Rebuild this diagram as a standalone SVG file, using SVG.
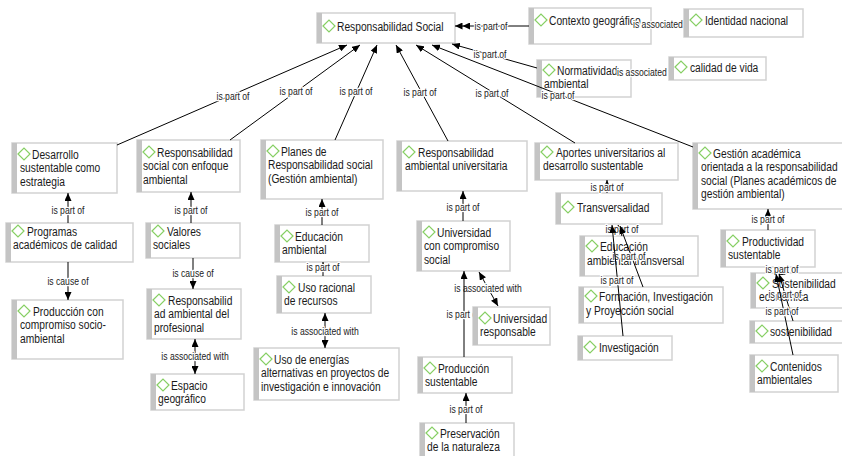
<svg xmlns="http://www.w3.org/2000/svg" width="842" height="456" viewBox="0 0 842 456">
<defs>
<marker id="a" viewBox="0 0 8 7" refX="8" refY="3.5" markerWidth="8" markerHeight="7" markerUnits="userSpaceOnUse" orient="auto-start-reverse"><path d="M0,0 L8,3.5 L0,7 z" fill="#000"/></marker>
<marker id="a2" viewBox="0 0 15 7" refX="15" refY="3.5" markerWidth="15" markerHeight="7" markerUnits="userSpaceOnUse" orient="auto"><path d="M0,0 L7.5,3.5 L0,7 z M7.5,0 L15,3.5 L7.5,7 z" fill="#000"/></marker>
<style>
.box{fill:#fff;stroke:#d2d2d2;stroke-width:1.5}
.strip{fill:#c4c4c4}
.dia{fill:none;stroke:#86cf63;stroke-width:1.2}
.t{font-family:"Liberation Sans",Arial,sans-serif;font-size:12.5px;fill:#1a1a1a}
.e{fill:none;stroke:#000;stroke-width:1}
.ea{marker-end:url(#a)}
.eb{marker-start:url(#a);marker-end:url(#a)}
.l{font-family:"Liberation Sans",Arial,sans-serif;font-size:10.5px;fill:#222;text-anchor:middle;stroke:#fff;stroke-width:2.5;paint-order:stroke;stroke-linejoin:round}
.ls{text-anchor:start}
</style>
</defs>
<rect width="842" height="456" fill="#fff"/>
<g id="nodes">
<g id="n-rs"><rect class="box" x="317" y="13" width="138" height="30"/><rect class="strip" x="317" y="13" width="5" height="30"/><path class="dia" d="M323,26 l6,-6 l6,6 l-6,6 z"/><text class="t" transform="matrix(.82 0 0 1 60.66 0)" x="337" y="31">Responsabilidad Social</text></g>
<g id="n-ctx"><rect class="box" x="529" y="8" width="122" height="36"/><rect class="strip" x="529" y="8" width="5" height="36"/><path class="dia" d="M535,20 l6,-6 l6,6 l-6,6 z"/><text class="t" transform="matrix(.82 0 0 1 98.82 0)" x="549" y="25">Contexto geográfico</text></g>
<g id="n-norm"><rect class="box" x="537" y="60" width="94" height="37"/><rect class="strip" x="537" y="60" width="5" height="37"/><path class="dia" d="M543,70 l6,-6 l6,6 l-6,6 z"/><text class="t" transform="matrix(.82 0 0 1 100.26 0)" x="557" y="75">Normatividad<tspan x="541.15" y="88">ambiental</tspan></text></g>
<g id="n-des"><rect class="box" x="12" y="143" width="105" height="50"/><rect class="strip" x="12" y="143" width="5" height="50"/><path class="dia" d="M18,154 l6,-6 l6,6 l-6,6 z"/><text class="t" transform="matrix(.82 0 0 1 5.76 0)" x="32" y="159">Desarrollo<tspan x="17.37" y="172.5">sustentable como</tspan><tspan x="17.37" y="186">estrategia</tspan></text></g>
<g id="n-rse"><rect class="box" x="137" y="140" width="103" height="52"/><rect class="strip" x="137" y="140" width="5" height="52"/><path class="dia" d="M143,152 l6,-6 l6,6 l-6,6 z"/><text class="t" transform="matrix(.82 0 0 1 28.26 0)" x="157" y="157">Responsabilidad<tspan x="139.93" y="170.5">social con enfoque</tspan><tspan x="139.93" y="184">ambiental</tspan></text></g>
<g id="n-pla"><rect class="box" x="261" y="140" width="122" height="59"/><rect class="strip" x="261" y="140" width="5" height="59"/><path class="dia" d="M267,151 l6,-6 l6,6 l-6,6 z"/><text class="t" transform="matrix(.82 0 0 1 50.58 0)" x="281" y="156">Planes de<tspan x="265.15" y="169.5">Responsabilidad social</tspan><tspan x="265.15" y="183">(Gestión ambiental)</tspan></text></g>
<g id="n-rau"><rect class="box" x="397" y="141" width="130" height="50"/><rect class="strip" x="397" y="141" width="5" height="50"/><path class="dia" d="M403,152 l6,-6 l6,6 l-6,6 z"/><text class="t" transform="matrix(.82 0 0 1 75.24 0)" x="418" y="157">Responsabilidad<tspan x="402.15" y="170.5">ambiental universitaria</tspan></text></g>
<g id="n-apo"><rect class="box" x="535" y="143" width="143" height="37"/><rect class="strip" x="535" y="143" width="5" height="37"/><path class="dia" d="M541,152 l6,-6 l6,6 l-6,6 z"/><text class="t" transform="matrix(.82 0 0 1 100.08 0)" x="556" y="157">Aportes universitarios al<tspan x="540.15" y="170.5">desarrollo sustentable</tspan></text></g>
<g id="n-ges"><rect class="box" x="693" y="143" width="150" height="66"/><rect class="strip" x="693" y="143" width="5" height="66"/><path class="dia" d="M699,153 l6,-6 l6,6 l-6,6 z"/><text class="t" transform="matrix(.82 0 0 1 128.34 0)" x="713" y="158">Gestión académica<tspan x="698.37" y="171.5">orientada a la responsabilidad</tspan><tspan x="698.37" y="185">social (Planes académicos de</tspan><tspan x="698.37" y="198.5">gestión ambiental)</tspan></text></g>
<g id="n-pro"><rect class="box" x="6" y="223" width="127" height="39"/><rect class="strip" x="6" y="223" width="5" height="39"/><path class="dia" d="M12,231 l6,-6 l6,6 l-6,6 z"/><text class="t" transform="matrix(.82 0 0 1 4.86 0)" x="27" y="236">Programas<tspan x="9.93" y="249.5">académicos de calidad</tspan></text></g>
<g id="n-val"><rect class="box" x="146" y="223" width="94" height="35"/><rect class="strip" x="146" y="223" width="5" height="35"/><path class="dia" d="M152,231 l6,-6 l6,6 l-6,6 z"/><text class="t" transform="matrix(.82 0 0 1 30.06 0)" x="167" y="236">Valores<tspan x="149.93" y="249">sociales</tspan></text></g>
<g id="n-pcs"><rect class="box" x="12" y="300" width="111" height="59"/><rect class="strip" x="12" y="300" width="5" height="59"/><path class="dia" d="M18,311 l6,-6 l6,6 l-6,6 z"/><text class="t" transform="matrix(.82 0 0 1 5.94 0)" x="33" y="316">Producción con<tspan x="17.15" y="329.5">compromiso socio-</tspan><tspan x="17.15" y="343">ambiental</tspan></text></g>
<g id="n-rap"><rect class="box" x="147" y="289" width="94" height="50"/><rect class="strip" x="147" y="289" width="5" height="50"/><path class="dia" d="M153,300 l6,-6 l6,6 l-6,6 z"/><text class="t" transform="matrix(.82 0 0 1 30.24 0)" x="168" y="305">Responsabilid<tspan x="150.93" y="318.5">ad ambiental del</tspan><tspan x="150.93" y="332">profesional</tspan></text></g>
<g id="n-esp"><rect class="box" x="151" y="374" width="93" height="36"/><rect class="strip" x="151" y="374" width="5" height="36"/><path class="dia" d="M157,385 l6,-6 l6,6 l-6,6 z"/><text class="t" transform="matrix(.82 0 0 1 30.78 0)" x="171" y="390">Espacio<tspan x="155.15" y="403.5">geográfico</tspan></text></g>
<g id="n-eda"><rect class="box" x="275" y="225" width="94" height="37"/><rect class="strip" x="275" y="225" width="5" height="37"/><path class="dia" d="M281,236 l6,-6 l6,6 l-6,6 z"/><text class="t" transform="matrix(.82 0 0 1 53.1 0)" x="295" y="241">Educación<tspan x="279.15" y="254.5">ambiental</tspan></text></g>
<g id="n-ura"><rect class="box" x="277" y="276" width="94" height="37"/><rect class="strip" x="277" y="276" width="5" height="37"/><path class="dia" d="M283,287 l6,-6 l6,6 l-6,6 z"/><text class="t" transform="matrix(.82 0 0 1 53.64 0)" x="298" y="292">Uso racional<tspan x="280.93" y="305.5">de recursos</tspan></text></g>
<g id="n-uen"><rect class="box" x="254" y="348" width="145" height="52"/><rect class="strip" x="254" y="348" width="5" height="52"/><path class="dia" d="M260,359 l6,-6 l6,6 l-6,6 z"/><text class="t" transform="matrix(.82 0 0 1 49.32 0)" x="274" y="364">Uso de energías<tspan x="258.15" y="377.5">alternativas en proyectos de</tspan><tspan x="258.15" y="391">investigación e innovación</tspan></text></g>
<g id="n-ucc"><rect class="box" x="417" y="221" width="93" height="50"/><rect class="strip" x="417" y="221" width="5" height="50"/><path class="dia" d="M423,232 l6,-6 l6,6 l-6,6 z"/><text class="t" transform="matrix(.82 0 0 1 78.66 0)" x="437" y="237">Universidad<tspan x="421.15" y="250.5">con compromiso</tspan><tspan x="421.15" y="264">social</tspan></text></g>
<g id="n-psu"><rect class="box" x="418" y="357" width="94" height="36"/><rect class="strip" x="418" y="357" width="5" height="36"/><path class="dia" d="M424,368 l6,-6 l6,6 l-6,6 z"/><text class="t" transform="matrix(.82 0 0 1 78.84 0)" x="438" y="373">Producción<tspan x="422.15" y="386.5">sustentable</tspan></text></g>
<g id="n-pre"><rect class="box" x="420" y="423" width="94" height="40"/><rect class="strip" x="420" y="423" width="5" height="40"/><path class="dia" d="M426,433 l6,-6 l6,6 l-6,6 z"/><text class="t" transform="matrix(.82 0 0 1 79.2 0)" x="440" y="438">Preservación<tspan x="424.15" y="451.5">de la naturaleza</tspan></text></g>
<g id="n-tra"><rect class="box" x="556" y="193" width="106" height="31"/><rect class="strip" x="556" y="193" width="5" height="31"/><path class="dia" d="M562,207 l6,-6 l6,6 l-6,6 z"/><text class="t" transform="matrix(.82 0 0 1 103.86 0)" x="577" y="212">Transversalidad</text></g>
<g id="n-eat"><rect class="box" x="580" y="236" width="118" height="40"/><rect class="strip" x="580" y="236" width="5" height="40"/><path class="dia" d="M586,246 l6,-6 l6,6 l-6,6 z"/><text class="t" transform="matrix(.82 0 0 1 108 0)" x="600" y="251">Educación<tspan x="584.15" y="265">ambiental transversal</tspan></text></g>
<g id="n-fip"><rect class="box" x="579" y="287" width="144" height="36"/><rect class="strip" x="579" y="287" width="5" height="36"/><path class="dia" d="M585,296 l6,-6 l6,6 l-6,6 z"/><text class="t" transform="matrix(.82 0 0 1 107.82 0)" x="599" y="301">Formación, Investigación<tspan x="583.15" y="315.5">y Proyección social</tspan></text></g>
<g id="n-inv"><rect class="box" x="578" y="336" width="94" height="24"/><rect class="strip" x="578" y="336" width="5" height="24"/><path class="dia" d="M584,347 l6,-6 l6,6 l-6,6 z"/><text class="t" transform="matrix(.82 0 0 1 107.82 0)" x="599" y="352">Investigación</text></g>
<g id="n-psus"><rect class="box" x="721" y="230" width="94" height="37"/><rect class="strip" x="721" y="230" width="5" height="37"/><path class="dia" d="M727,241 l6,-6 l6,6 l-6,6 z"/><text class="t" transform="matrix(.82 0 0 1 133.56 0)" x="742" y="246">Productividad<tspan x="724.93" y="259.5">sustentable</tspan></text></g>
<g id="n-sec"><rect class="box" x="751" y="273" width="92" height="35"/><rect class="strip" x="751" y="273" width="5" height="35"/><path class="dia" d="M757,283 l6,-6 l6,6 l-6,6 z"/><text class="t" transform="matrix(.82 0 0 1 138.96 0)" x="772" y="288">Sostenibilidad<tspan x="756.15" y="301">económica</tspan></text></g>
<g id="n-sos"><rect class="box" x="750" y="321" width="93" height="22"/><rect class="strip" x="750" y="321" width="5" height="22"/><path class="dia" d="M756,331 l6,-6 l6,6 l-6,6 z"/><text class="t" transform="matrix(.82 0 0 1 138.6 0)" x="770" y="336">sostenibilidad</text></g>
<g id="n-con"><rect class="box" x="750" y="355" width="88" height="37"/><rect class="strip" x="750" y="355" width="5" height="37"/><path class="dia" d="M756,366 l6,-6 l6,6 l-6,6 z"/><text class="t" transform="matrix(.82 0 0 1 138.6 0)" x="770" y="371">Contenidos<tspan x="754.15" y="384">ambientales</tspan></text></g>
</g>
<g id="connectors">
<path class="e" d="M529,26 L455,26" marker-end="url(#a2)"/><text class="l" transform="matrix(.82 0 0 1 88.38 0)" x="491" y="30">is part of</text>
<path class="e ea" d="M537,68 L452,44"/><text class="l" transform="matrix(.82 0 0 1 88.2 0)" x="490" y="58">is part of</text>
<path class="e ea" d="M117,145 L347,45"/><text class="l" transform="matrix(.82 0 0 1 41.94 0)" x="233" y="100">is part of</text>
<path class="e ea" d="M230,140 L360,45"/><text class="l" transform="matrix(.82 0 0 1 53.28 0)" x="296" y="95">is part of</text>
<path class="e ea" d="M335,140 L377,45"/><text class="l" transform="matrix(.82 0 0 1 64.08 0)" x="356" y="95">is part of</text>
<path class="e ea" d="M448,141 L396,45"/><text class="l" transform="matrix(.82 0 0 1 75.6 0)" x="420" y="96">is part of</text>
<path class="e ea" d="M575,143 L416,45"/><text class="l" transform="matrix(.82 0 0 1 88.56 0)" x="492" y="97">is part of</text>
<path class="e ea" d="M693,147 L432,45"/><text class="l" transform="matrix(.82 0 0 1 100.44 0)" x="558" y="99">is part of</text>
<text class="l ls" transform="matrix(.82 0 0 1 113.94 0)" x="633" y="28">is associated with</text>
<text class="l ls" transform="matrix(.82 0 0 1 111.06 0)" x="617" y="76">is associated with</text>
<path class="e ea" d="M68,223 L68,193"/><text class="l" transform="matrix(.82 0 0 1 12.24 0)" x="68" y="214">is part of</text>
<path class="e ea" d="M68,262 L68,300"/><text class="l" transform="matrix(.82 0 0 1 12.24 0)" x="68" y="285">is cause of</text>
<path class="e ea" d="M191,223 L191,192"/><text class="l" transform="matrix(.82 0 0 1 34.38 0)" x="191" y="214">is part of</text>
<path class="e ea" d="M193,258 L193,289"/><text class="l" transform="matrix(.82 0 0 1 34.74 0)" x="193" y="277">is cause of</text>
<path class="e eb" d="M195,339 L195,374"/><text class="l" transform="matrix(.82 0 0 1 35.1 0)" x="195" y="360">is associated with</text>
<path class="e ea" d="M322,225 L322,199"/><text class="l" transform="matrix(.82 0 0 1 57.96 0)" x="322" y="216">is part of</text>
<path class="e ea" d="M323,276 L323,262"/><text class="l" transform="matrix(.82 0 0 1 58.14 0)" x="323" y="271">is part of</text>
<path class="e eb" d="M325,313 L325,348"/><text class="l" transform="matrix(.82 0 0 1 58.5 0)" x="325" y="335">is associated with</text>
<path class="e ea" d="M463,221 L463,191"/><text class="l" transform="matrix(.82 0 0 1 83.34 0)" x="463" y="211">is part of</text>
<path class="e eb" d="M479,272 L498,306"/><text class="l" transform="matrix(.82 0 0 1 87.84 0)" x="488" y="292">is associated with</text>
<path class="e ea" d="M464,357 L464,271"/><text class="l" transform="matrix(.82 0 0 1 83.34 0)" x="463" y="318">is part of</text>
<path class="e ea" d="M466,423 L466,393"/><text class="l" transform="matrix(.82 0 0 1 83.88 0)" x="466" y="413">is part of</text>
<path class="e ea" d="M607,193 L607,180"/><text class="l" transform="matrix(.82 0 0 1 109.26 0)" x="607" y="191">is part of</text>
<path class="e ea" d="M622,236 L618,225"/><text class="l" transform="matrix(.82 0 0 1 111.96 0)" x="622" y="233">is part of</text>
<path class="e ea" d="M643,287 L620,226"/><text class="l" transform="matrix(.82 0 0 1 113.22 0)" x="629" y="260">is part of</text>
<path class="e ea" d="M623,336 L612,225"/><text class="l" transform="matrix(.82 0 0 1 111.06 0)" x="617" y="284">is part of</text>
<path class="e ea" d="M768,230 L768,209"/><text class="l" transform="matrix(.82 0 0 1 138.24 0)" x="768" y="223">is part of</text>
<path class="e ea" d="M782,273 L782,267"/><text class="l" transform="matrix(.82 0 0 1 140.76 0)" x="782" y="273">is part of</text>
<path class="e ea" d="M793,321 L779,274"/><text class="l" transform="matrix(.82 0 0 1 141.3 0)" x="785" y="298">is part of</text>
<path class="e ea" d="M793,355 L776,274"/><text class="l" transform="matrix(.82 0 0 1 140.76 0)" x="782" y="315">is part of</text>
</g>
<g id="nodes-top">
<g id="n-idn"><rect class="box" x="684" y="9" width="119" height="28"/><rect class="strip" x="684" y="9" width="5" height="28"/><path class="dia" d="M690,20 l6,-6 l6,6 l-6,6 z"/><text class="t" transform="matrix(.82 0 0 1 126.9 0)" x="705" y="25">Identidad nacional</text></g>
<g id="n-cal"><rect class="box" x="669" y="57" width="97" height="23"/><rect class="strip" x="669" y="57" width="5" height="23"/><path class="dia" d="M675,67 l6,-6 l6,6 l-6,6 z"/><text class="t" transform="matrix(.82 0 0 1 124.2 0)" x="690" y="72">calidad de vida</text></g>
<g id="n-ure"><rect class="box" x="473" y="307" width="77" height="38"/><rect class="strip" x="473" y="307" width="5" height="38"/><path class="dia" d="M479,318 l6,-6 l6,6 l-6,6 z"/><text class="t" transform="matrix(.82 0 0 1 88.74 0)" x="493" y="323">Universidad<tspan x="477.15" y="336.5">responsable</tspan></text></g>
</g>
</svg>
